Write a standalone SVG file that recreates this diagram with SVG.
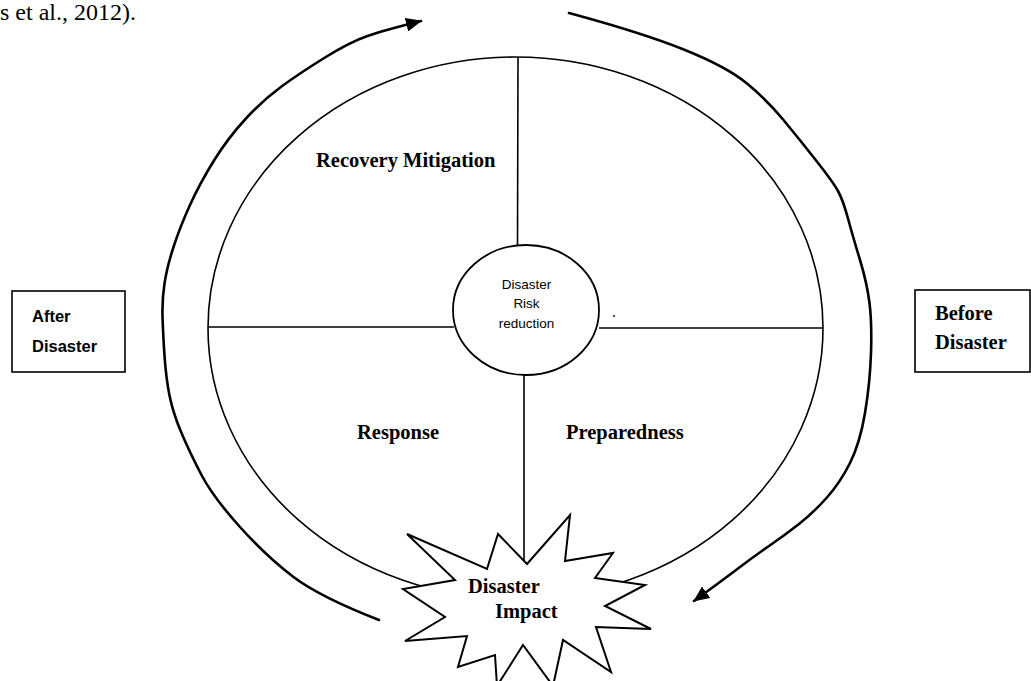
<svg xmlns="http://www.w3.org/2000/svg" width="1031" height="681" viewBox="0 0 1031 681">
<style>
.bg{fill:#fff}
.ln{fill:none;stroke:#000;stroke-width:1.6}
.arc{fill:none;stroke:#000;stroke-width:2.6;stroke-linecap:round;stroke-linejoin:round}
.box{fill:#fff;stroke:#000;stroke-width:1.6}
.tb{font-family:"Liberation Serif","Times New Roman",serif;font-weight:bold;font-size:20.5px;fill:#000}
.sb{font-family:"Liberation Sans",Arial,sans-serif;font-weight:bold;font-size:16.5px;fill:#000}
.sr{font-family:"Liberation Sans",Arial,sans-serif;font-size:13.5px;fill:#000}
.cap{font-family:"Liberation Serif","Times New Roman",serif;font-size:24px;fill:#000}
</style>
<defs>
<marker id="ah" markerUnits="userSpaceOnUse" viewBox="0 0 16 14" refX="15" refY="7" markerWidth="16" markerHeight="14" orient="auto">
<path d="M0,0 L16,7 L0,14 z" fill="#000"/>
</marker>
</defs>
<rect class="bg" x="0" y="0" width="1031" height="681"/>
<text class="cap" x="0" y="20">s et al., 2012).</text>

<g id="cycle">
<ellipse class="ln" cx="515.5" cy="328" rx="307.5" ry="271"/>
</g>

<g id="connectors">
<line class="ln" x1="518" y1="57" x2="517.5" y2="246"/>
<line class="ln" x1="208" y1="327" x2="454" y2="327"/>
<line class="ln" x1="599" y1="328" x2="823" y2="328"/>
<line class="ln" x1="524" y1="375" x2="524" y2="564"/>
<path class="arc" marker-end="url(#ah)" d="M379,620 Q320,597 293.5,577 Q267,557 240,527 Q213,497 201.5,475 Q190,453 181.5,433 Q173,413 169.5,395.5 Q166,378 164.5,355.5 Q163,333 162.5,316.5 Q162,300 164.5,283.5 Q167,267 173.5,247 Q180,227 190,205 Q200,183 214,160.5 Q228,138 245.5,119 Q263,100 281.5,86.5 Q300,73 325,57.5 Q350,42 367.5,36 Q385,30 421,21"/>
<path class="arc" marker-end="url(#ah)" d="M569,13 Q643,33 685,50 Q727,67 747,83.5 Q767,100 783.5,120 Q800,140 816.5,161 Q833,182 838,191 Q843,200 848,218.5 Q853,237 860,260 Q867,283 869.5,303 Q872,323 871,353 Q870,383 865,413 Q860,443 850,463 Q840,483 826.5,498 Q813,513 799,524 Q785,535 769,546 Q753,557 740,567 Q727,577 694,601"/>
</g>

<g id="center">
<ellipse cx="526" cy="310" rx="73" ry="65" fill="#fff" stroke="#000" stroke-width="1.8"/>
<text class="sr" x="526.5" y="289" text-anchor="middle">Disaster</text>
<text class="sr" x="526.5" y="308" text-anchor="middle">Risk</text>
<text class="sr" x="526.5" y="328" text-anchor="middle">reduction</text>
<circle cx="614" cy="316" r="0.9" fill="#000"/>
</g>

<g id="recovery"><text class="tb" x="316" y="167">Recovery Mitigation</text></g>
<g id="response"><text class="tb" x="357" y="439">Response</text></g>
<g id="preparedness"><text class="tb" x="566" y="439">Preparedness</text></g>

<g id="after">
<rect class="box" x="12" y="291" width="113" height="81"/>
<text class="sb" x="32" y="322">After</text>
<text class="sb" x="32" y="352">Disaster</text>
</g>

<g id="before">
<rect class="box" x="915" y="290" width="115" height="82"/>
<text class="tb" x="935" y="320">Before</text>
<text class="tb" x="935" y="349">Disaster</text>
</g>

<g id="impact">
<polygon points="527,564 570,515 565,561 613,553 595,578 645,585 605,606 651,629 596,627 611,672 563,640 553,686 523,645 497,686 495,655 458,667 467,636 405,641 445,617 403,589 455,580 407,534 487,569 498,534" fill="#fff" stroke="#000" stroke-width="2" stroke-linejoin="miter"/>
<text class="tb" x="468" y="593">Disaster</text>
<text class="tb" x="495" y="618">Impact</text>
</g>
</svg>
